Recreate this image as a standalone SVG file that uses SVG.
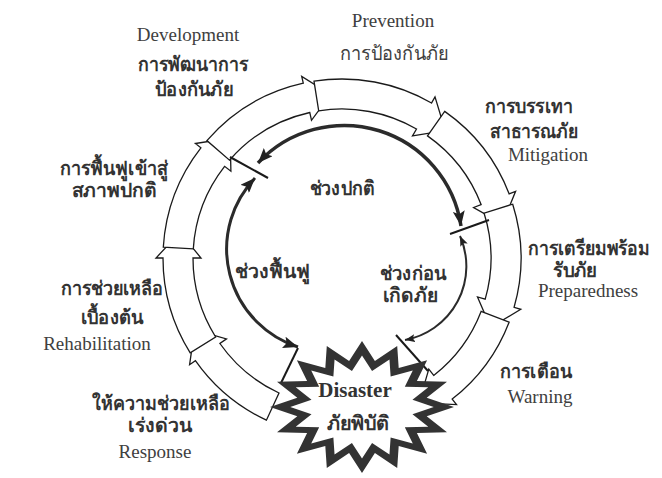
<svg xmlns="http://www.w3.org/2000/svg" width="662" height="478" viewBox="0 0 662 478">
<style>
.seg{fill:#fff;stroke:#1a1a1a;stroke-width:1.3;stroke-linejoin:miter}
.en{font-family:"Liberation Serif",serif;font-size:19px;fill:#404040;text-anchor:middle}
.th{font-family:"Liberation Serif",serif;font-weight:bold;font-size:19.5px;fill:#333;text-anchor:middle}
.thr{font-family:"Liberation Serif",serif;font-size:19.5px;fill:#404040;text-anchor:middle}
.arc{fill:none;stroke:#2b2b2b}
.tick{stroke:#1a1a1a;stroke-width:2}
</style>
<defs>
<marker id="big" markerUnits="userSpaceOnUse" markerWidth="16" markerHeight="12" refX="15" refY="6" orient="auto-start-reverse" viewBox="0 0 16 12"><path d="M0,0 L15,6 L0,12 L3,6 z" fill="#222"/></marker>
<marker id="small" markerUnits="userSpaceOnUse" markerWidth="11" markerHeight="8" refX="10" refY="4" orient="auto-start-reverse" viewBox="0 0 11 8"><path d="M0,0 L10,4 L0,8 L2,4 z" fill="#222"/></marker>
<polygon id="star" points="362,341 374.9,360.9 397.2,346 398.7,367.9 427.1,360.3 416.9,380.9 447,381.7 426.7,397.8 454,407 426.7,416.2 447,432.3 416.9,433.1 427.1,453.7 398.7,446.1 397.2,468 374.9,453.1 362,473 349.1,453.1 326.8,468 325.3,446.1 296.9,453.7 307.1,433.1 277,432.3 297.3,416.2 270,407 297.3,397.8 277,381.7 307.1,380.9 296.9,360.3 325.3,367.9 326.8,346 349.1,360.9"/>
</defs>

<g id="response">
<path class="seg" d="M266.4,420.2 A179,179 0 0 1 195.4,360.7 L189.6,364.7 L194.6,329.9 L226.5,338.9 L219.9,343.5 A149,149 0 0 0 279,393 Z"/>
<text class="th" x="161" y="410" textLength="138" lengthAdjust="spacingAndGlyphs">ให้ความช่วยเหลือ</text>
<text class="th" x="160" y="432" textLength="64" lengthAdjust="spacingAndGlyphs">เร่งด่วน</text>
<text class="en" x="155" y="458">Response</text>
</g>
<g id="rehabilitation">
<path class="seg" d="M190.2,352.9 A179,179 0 0 1 163,258 L156,258 L180,232.4 L201,258 L193,258 A149,149 0 0 0 215.6,337 Z"/>
<text class="th" x="112" y="295" textLength="103" lengthAdjust="spacingAndGlyphs">การช่วยเหลือ</text>
<text class="th" x="112" y="324" textLength="63" lengthAdjust="spacingAndGlyphs">เบื้องต้น</text>
<text class="en" x="97" y="350">Rehabilitation</text>
</g>
<g id="recovery">
<path class="seg" d="M163.3,247.1 A179,179 0 0 1 200.9,147.8 L195.4,143.5 L230.2,138.1 L230.9,171.2 L224.6,166.3 A149,149 0 0 0 193.3,248.9 Z"/>
<text class="th" x="114" y="175" textLength="108" lengthAdjust="spacingAndGlyphs">การฟื้นฟูเข้าสู่</text>
<text class="th" x="114" y="197" textLength="85" lengthAdjust="spacingAndGlyphs">สภาพปกติ</text>
</g>
<g id="development">
<path class="seg" d="M206.9,140.6 A179,179 0 0 1 303.3,83.2 L301.7,76.4 L330.6,94.4 L311.5,120.3 L309.8,112.5 A149,149 0 0 0 229.5,160.2 Z"/>
<text class="en" x="188" y="41">Development</text>
<text class="th" x="193" y="71" textLength="110" lengthAdjust="spacingAndGlyphs">การพัฒนาการ</text>
<text class="th" x="194" y="96" textLength="78" lengthAdjust="spacingAndGlyphs">ป้องกันภัย</text>
</g>
<g id="prevention">
<path class="seg" d="M314,81.2 A179,179 0 0 1 431.5,103 L435,96.9 L445.2,130.6 L412.5,135.9 L416.5,129 A149,149 0 0 0 318.7,110.8 Z"/>
<text class="en" x="393" y="27">Prevention</text>
<text class="thr" x="394" y="60" textLength="108" lengthAdjust="spacingAndGlyphs">การป้องกันภัย</text>
</g>
<g id="mitigation">
<path class="seg" d="M444.7,111.4 A179,179 0 0 1 509.1,193.8 L515.6,191.3 L502.4,223.9 L473.6,207.5 L481.1,204.6 A149,149 0 0 0 427.5,135.9 Z"/>
<text class="th" x="529" y="113" textLength="88" lengthAdjust="spacingAndGlyphs">การบรรเทา</text>
<text class="th" x="534" y="138" textLength="88" lengthAdjust="spacingAndGlyphs">สาธารณภัย</text>
<text class="en" x="548" y="161">Mitigation</text>
</g>
<g id="preparedness">
<path class="seg" d="M512.7,204.2 A179,179 0 0 1 514.1,307.3 L520.8,309.3 L490.6,327.3 L477.5,296.9 L485.2,299.1 A149,149 0 0 0 484.1,213.2 Z"/>
<text class="th" x="589" y="255" font-size="17.5" textLength="122" lengthAdjust="spacingAndGlyphs">การเตรียมพร้อม</text>
<text class="th" x="575" y="277" textLength="44" lengthAdjust="spacingAndGlyphs">รับภัย</text>
<text class="en" x="588" y="297">Preparedness</text>
</g>
<g id="warning">
<path class="seg" d="M509.1,322.2 A179,179 0 0 1 452.2,399.1 L456.5,404.6 L419,402.8 L428.8,369.1 L433.7,375.4 A149,149 0 0 0 481.1,311.4 Z"/>
<text class="th" x="536" y="378" textLength="72" lengthAdjust="spacingAndGlyphs">การเตือน</text>
<text class="en" x="540" y="403">Warning</text>
</g>

<g id="connectors">
<line class="tick" x1="230" y1="157" x2="268" y2="178"/>
<line class="tick" x1="450" y1="234" x2="489" y2="220"/>
<line class="tick" x1="396" y1="335" x2="428" y2="371"/>
<line class="tick" x1="281" y1="383" x2="298" y2="348"/>
<path class="arc" stroke-width="3.5" d="M258,163 A118,118 0 0 1 461,226" marker-start="url(#big)" marker-end="url(#big)"/>
<path class="arc" stroke-width="3" d="M255,178 A103,103 0 0 0 298,347" marker-start="url(#big)" marker-end="url(#big)"/>
<path class="arc" stroke-width="2" d="M460,236 A75,75 0 0 1 405,340" marker-start="url(#small)" marker-end="url(#small)"/>
</g>

<g id="phases">
<text class="th" x="342" y="195" textLength="65" lengthAdjust="spacingAndGlyphs">ช่วงปกติ</text>
<text class="th" x="272" y="278" textLength="75" lengthAdjust="spacingAndGlyphs">ช่วงฟื้นฟู</text>
<text class="th" x="413" y="280" textLength="67" lengthAdjust="spacingAndGlyphs">ช่วงก่อน</text>
<text class="th" x="410" y="302" textLength="55" lengthAdjust="spacingAndGlyphs">เกิดภัย</text>
</g>

<g id="disaster">
<use href="#star" fill="#333"/>
<use href="#star" fill="#fff" transform="translate(362 407) scale(0.78) translate(-362 -407)"/>
<text x="355" y="397" font-family="Liberation Serif,serif" font-weight="bold" font-size="21" fill="#333" text-anchor="middle">Disaster</text>
<text class="th" x="358" y="430" textLength="63" lengthAdjust="spacingAndGlyphs">ภัยพิบัติ</text>
</g>
</svg>
